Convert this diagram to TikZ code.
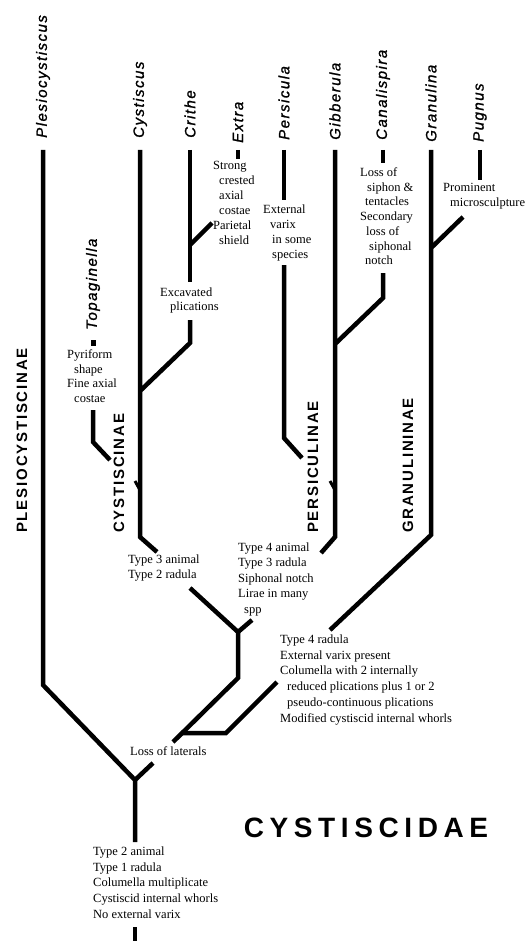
\documentclass[tikz,border=0pt]{standalone}
\usepackage{fontspec}
\setmainfont{Liberation Serif}
\newfontfamily\genfont[LetterSpace=10,FakeBold=1.2]{Liberation Sans}
\newfontfamily\subfont[LetterSpace=12]{Liberation Sans}
\newfontfamily\famfont[LetterSpace=20]{Liberation Sans}
\begin{document}
\begin{tikzpicture}[x=1pt,y=-1pt,
  branch/.style={line width=4.5pt,line join=miter,line cap=butt},
  genus/.style={rotate=90,anchor=west,inner sep=0pt,font=\genfont\itshape\fontsize{15}{18}\selectfont},
  subfam/.style={rotate=90,anchor=west,inner sep=0pt,font=\subfont\bfseries\fontsize{15}{18}\selectfont},
  note/.style={anchor=north west,inner sep=0pt,align=left,font=\fontsize{12.5}{15}\selectfont},
  notewide/.style={anchor=north west,inner sep=0pt,align=left,font=\fontsize{12.5}{15.8}\selectfont}]
\useasboundingbox (0,0) rectangle (527,941);
\fill[white] (0,0) rectangle (527,941);

% genus labels
\node[genus] (Ples) at (43,138) {Plesiocystiscus};
\node[genus] (Cyst) at (140,138) {Cystiscus};
\node[genus] (Crit) at (190,138) {Crithe};
\node[genus] (Extr) at (238,143) {Extra};
\node[genus] (Topa) at (93,330) {Topaginella};
\node[genus] (Pers) at (284,140) {Persicula};
\node[genus] (Gibb) at (335,140) {Gibberula};
\node[genus] (Cana) at (383,140) {Canalispira};
\node[genus] (Gran) at (431,142) {Granulina};
\node[genus] (Pugn) at (480,142) {Pugnus};

% subfamily labels
\node[subfam] (SPles) at (22,533) {PLESIOCYSTISCINAE};
\node[subfam] (SCyst) at (119,533) {CYSTISCINAE};
\node[subfam] (SPers) at (313,533) {PERSICULINAE};
\node[subfam] (SGran) at (408,533) {GRANULININAE};

\node[inner sep=0pt,font=\famfont\bfseries\fontsize{28}{32}\selectfont] (Fam) at (366,828) {CYSTISCIDAE};

% character notes
\node[note] (nExtra) at (213,161.5) {Strong\\\hspace*{6pt}crested\\\hspace*{6pt}axial\\\hspace*{6pt}costae\\Parietal\\\hspace*{6pt}shield};
\node[note,font=\fontsize{12.5}{14}\selectfont] (nCrit) at (160,287.5) {Excavated\\\hspace*{10pt}plications};
\node[note,font=\fontsize{12.5}{14.5}\selectfont] (nTopa) at (67,349.5) {Pyriform\\\hspace*{7pt}shape\\Fine axial\\\hspace*{7pt}costae};
\node[note] (nPers) at (263,204.5) {External\\\hspace*{7pt}varix\\\hspace*{9pt}in some\\\hspace*{9pt}species};
\node[note,font=\fontsize{12.5}{14.7}\selectfont] (nCana) at (360,167.5) {Loss of\\\hspace*{7pt}siphon \&\\\hspace*{5pt}tentacles\\Secondary\\\hspace*{6pt}loss of\\\hspace*{9pt}siphonal\\\hspace*{5pt}notch};
\node[note] (nPugn) at (443,183.5) {Prominent\\\hspace*{7pt}microsculpture};
\node[note] (nCystin) at (128,554.5) {Type 3 animal\\Type 2 radula};
\node[notewide,font=\fontsize{12.5}{15.5}\selectfont] (nPersin) at (238,542.5) {Type 4 animal\\Type 3 radula\\Siphonal notch\\Lirae in many\\\hspace*{6pt}spp};
\node[notewide] (nGranin) at (280,634.5) {Type 4 radula\\External varix present\\Columella with 2 internally\\\hspace*{7pt}reduced plications plus 1 or 2\\\hspace*{7pt}pseudo-continuous plications\\Modified cystiscid internal whorls};
\node[note] (nLoss) at (130,746.5) {Loss of laterals};
\node[notewide] (nRoot) at (93,846.5) {Type 2 animal\\Type 1 radula\\Columella multiplicate\\Cystiscid internal whorls\\No external varix};

% coordinates
\coordinate (root) at (135,780);
\coordinate (rootbase) at (135,842);
\coordinate (rootstub) at (135,927);
\coordinate (rootend) at (135,941);

% Plesiocystiscus and root
\draw[branch] (43,150) -- (43,685) -- (root) -- (rootbase);
\draw[branch] (rootstub) -- (rootend);
\draw[branch] (153,763) -- (root);

% Cystiscus
\draw[branch] (140,150) -- (140,537) -- (157,552);
\draw[line width=3pt] (140,490) -- (135,481);
% Crithe
\draw[branch] (190,150) -- (190,282);
\draw[branch] (190,245) -- (212,223);
\draw[branch] (238,150) -- (238,159);
\draw[branch] (190,320) -- (190,343) -- (140,391);
% Topaginella
\fill (90.5,340) rectangle (95.5,346);
\draw[branch] (93,410) -- (93,442) -- (110,460);

% Cystiscinae + Persiculinae stem
\draw[branch] (190,588) -- (238,632) -- (238,678) -- (173,742);
\draw[branch] (238,632) -- (252,620);

% Persicula
\draw[branch] (284,150) -- (284,200);
\draw[branch] (284,265) -- (284,438) -- (302,458);
% Gibberula
\draw[branch] (335,150) -- (335,537) -- (321,553);
\draw[line width=3pt] (335,490) -- (330,481);
% Canalispira
\draw[branch] (383,150) -- (383,163);
\draw[branch] (383,273) -- (383,298) -- (335,344);

% Granulina
\draw[branch] (431,150) -- (431,535) -- (330,630);
\draw[branch] (431,248) -- (463,217);
\draw[branch] (480,150) -- (480,180);
\draw[branch] (277,682) -- (226,733) -- (181,733);
\end{tikzpicture}
\end{document}
